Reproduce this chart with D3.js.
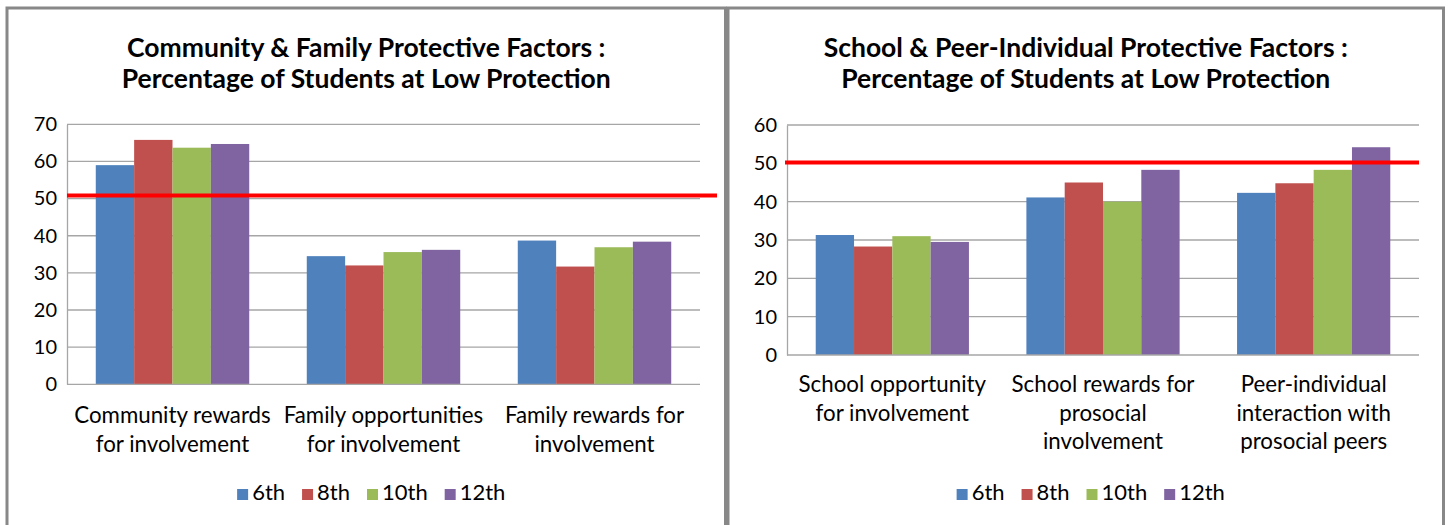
<!DOCTYPE html>
<html>
<head>
<meta charset="utf-8">
<script src="https://cdnjs.cloudflare.com/ajax/libs/d3/7.8.5/d3.min.js"></script>
<style>
  body { margin: 0; background: #fff; }
  svg text { font-family: Lato, "Open Sans", sans-serif; fill: #000; }
</style>
</head>
<body>
<div id="chart"></div>
<script>
// grades shown in the legend
var grades = ["6th", "8th", "10th", "12th"];
var gradeColors = ["#4F81BD", "#C0504D", "#9BBB59", "#8064A2"];

// left chart: community & family
var cfTitle = ["Community & Family Protective Factors :", "Percentage of Students at Low Protection"];
var cfCategories = [
    ["Community rewards", "for involvement"],
    ["Family opportunities", "for involvement"],
    ["Family rewards for", "involvement"]
];
var cf6th = [59.0, 34.5, 38.7];
var cf8th = [65.8, 32.0, 31.7];
var cf10th = [63.7, 35.6, 36.9];
var cf12th = [64.7, 36.2, 38.4];
var cfTicks = [0, 10, 20, 30, 40, 50, 60, 70];
var cfThreshold = 50.8;

// right chart: school & peer-individual
var spTitle = ["School & Peer-Individual Protective Factors :", "Percentage of Students at Low Protection"];
var spCategories = [
    ["School opportunity", "for involvement"],
    ["School rewards for", "prosocial", "involvement"],
    ["Peer-individual", "interaction with", "prosocial peers"]
];
var sp6th = [31.3, 41.1, 42.3];
var sp8th = [28.3, 45.0, 44.8];
var sp10th = [31.0, 40.0, 48.3];
var sp12th = [29.5, 48.3, 54.2];
var spTicks = [0, 10, 20, 30, 40, 50, 60];
var spThreshold = 50.2;

var width = 1448;
var height = 525;

var svg = d3.select("#chart")
    .append("svg")
    .attr("width", width)
    .attr("height", height);

// Draws one framed chart panel
function drawPanel(opts)
{
    var g = svg.append("g");

    // panel frame
    g.append("rect")
      .attr("x", opts.frame[0])
      .attr("y", 8)
      .attr("width", opts.frame[1] - opts.frame[0])
      .attr("height", 540)
      .attr("fill", "none")
      .attr("stroke", "#888")
      .attr("stroke-width", 3);

    var cx = (opts.frame[0] + opts.frame[1]) / 2;

    // title
    g.selectAll(".title")
      .data(opts.title)
      .enter()
      .append("text")
      .attr("x", cx)
      .attr("y", function(d, i) { return 57 + i * 31; })
      .attr("text-anchor", "middle")
      .attr("font-size", "26.5px")
      .attr("font-weight", "bold")
      .text(function(d) { return d; });

    var x0 = d3.scaleBand()
        .domain(opts.categories.map(function(d, i) { return i; }))
        .range([opts.left, opts.right])
        .paddingInner(0)
        .paddingOuter(0);

    // gap width 150% -> inner band holds 4 bars
    var x1 = d3.scaleBand()
        .domain(grades)
        .range([0, x0.bandwidth()])
        .paddingOuter(0.75)
        .paddingInner(0);

    var y = d3.scaleLinear()
        .domain([0, d3.max(opts.ticks)])
        .range([opts.bottom, opts.top]);

    // gridlines
    g.selectAll(".grid")
      .data(opts.ticks.slice(1))
      .enter()
      .append("line")
      .attr("x1", opts.left)
      .attr("x2", opts.right)
      .attr("y1", function(d) { return y(d); })
      .attr("y2", function(d) { return y(d); })
      .attr("stroke", "#a6a6a6")
      .attr("stroke-width", 1.3);

    // y axis
    var yAxis = d3.axisLeft(y).tickValues(opts.ticks).tickSize(0).tickPadding(10);
    var ax = g.append("g")
      .attr("transform", "translate(" + opts.left + ",0)")
      .call(yAxis);
    ax.select(".domain").attr("stroke", "#a6a6a6").attr("stroke-width", 1.3);
    ax.selectAll("text")
      .attr("font-size", "20px")
      .attr("font-family", "Lato, sans-serif")
      .attr("fill", "#000");

    // bars
    var series = grades.map(function(gr, j) {
        return opts.values[j].map(function(v, i) { return { grade: gr, cat: i, value: v, color: gradeColors[j] }; });
    });
    var all = [].concat.apply([], series);

    g.selectAll(".bar")
      .data(all)
      .enter()
      .append("rect")
      .attr("class", "bar")
      .attr("x", function(d) { return x0(d.cat) + x1(d.grade); })
      .attr("width", x1.bandwidth())
      .attr("y", function(d) { return y(d.value); })
      .attr("height", function(d) { return y(0) - y(d.value); })
      .attr("fill", function(d) { return d.color; });

    // base line
    g.append("line")
      .attr("x1", opts.left)
      .attr("x2", opts.right)
      .attr("y1", y(0))
      .attr("y2", y(0))
      .attr("stroke", "#a6a6a6")
      .attr("stroke-width", 1.3);

    // threshold line
    g.append("line")
      .attr("x1", opts.redStart)
      .attr("x2", opts.redEnd)
      .attr("y1", y(opts.threshold))
      .attr("y2", y(opts.threshold))
      .attr("stroke", "#ff0000")
      .attr("stroke-width", 4);

    // category labels
    var cats = g.selectAll(".cat")
      .data(opts.categories)
      .enter()
      .append("text")
      .attr("text-anchor", "middle")
      .attr("font-size", "22.3px");
    cats.each(function(lines, i) {
        d3.select(this).selectAll("tspan")
          .data(lines)
          .enter()
          .append("tspan")
          .attr("x", x0(i) + x0.bandwidth() / 2)
          .attr("y", function(d, k) { return opts.catY + k * 28.5; })
          .text(function(d) { return d; });
    });

    // legend
    var leg = g.append("g");
    var pos = 0;
    grades.forEach(function(gr, j) {
        var item = leg.append("g").attr("transform", "translate(" + pos + ",0)");
        item.append("rect")
          .attr("x", 0)
          .attr("y", -11)
          .attr("width", 11)
          .attr("height", 11)
          .attr("fill", gradeColors[j]);
        var t = item.append("text")
          .attr("x", 15)
          .attr("y", 0)
          .attr("font-size", "22px")
          .text(gr);
        pos += 15 + t.node().getComputedTextLength() + 17;
    });
    pos -= 17;
    leg.attr("transform", "translate(" + (cx + 5 - pos / 2) + ",500)");
}

drawPanel({
    frame: [7, 725.5],
    title: cfTitle,
    categories: cfCategories,
    values: [cf6th, cf8th, cf10th, cf12th],
    ticks: cfTicks,
    threshold: cfThreshold,
    left: 67, right: 700, top: 124.3, bottom: 384.3,
    redStart: 67, redEnd: 717,
    catY: 423
});

drawPanel({
    frame: [728, 1443.5],
    title: spTitle,
    categories: spCategories,
    values: [sp6th, sp8th, sp10th, sp12th],
    ticks: spTicks,
    threshold: spThreshold,
    left: 787, right: 1419, top: 125, bottom: 355,
    redStart: 785, redEnd: 1419,
    catY: 392
});
</script>
</body>
</html>
